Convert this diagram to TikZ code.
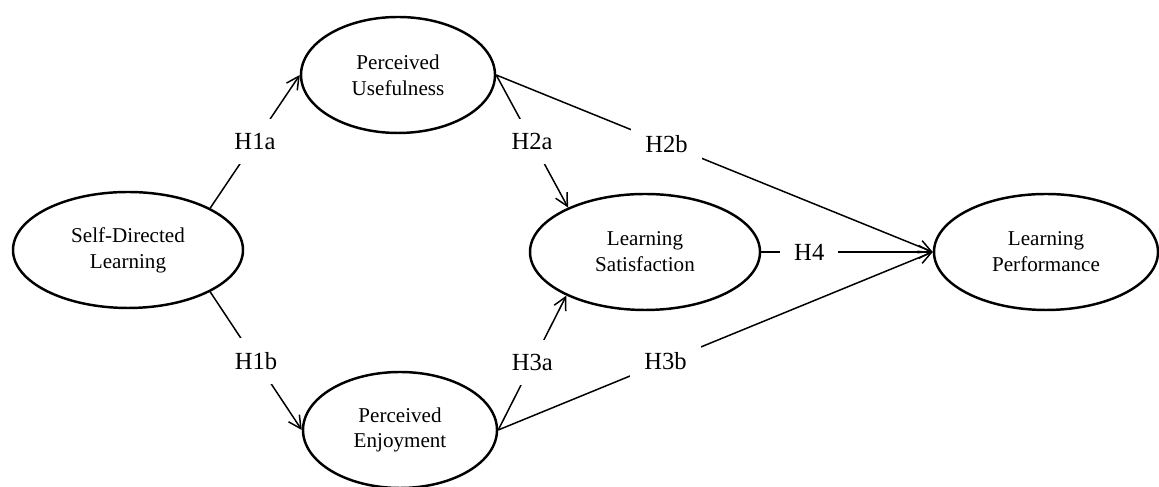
\documentclass[tikz,border=0pt]{standalone}
\usepackage{fontspec}
\setmainfont{Liberation Serif}
\usetikzlibrary{positioning, quotes, arrows.meta, shapes}

\begin{document}
\begin{tikzpicture}

\tikzset{
latent/.style = {ellipse, draw, line width = 1.4pt, inner sep = 0pt, minimum width = 4.6cm,
	minimum height = 2.32cm, align = center, font = \fontsize{12}{14.7}\selectfont},
regression/.style = {-{Straight Barb[length = 2.5mm, width = 2.6mm]}, line width = 0.85pt},
every edge quotes/.style = {fill = white, inner sep = 8pt, font = \fontsize{14}{16}\selectfont},
	}

\useasboundingbox (0, 0) rectangle (23.18, 9.74);

%% Latent variables
\node at (2.56, 4.74) [latent] (SDL) {Self-Directed\\Learning};
\node at (7.96, 8.24) [latent, minimum width = 3.88cm] (PU) {Perceived\\Usefulness};
\node at (8.00, 1.14) [latent, minimum width = 3.88cm] (PE) {Perceived\\Enjoyment};
\node at (12.90, 4.70) [latent] (LS) {Learning\\Satisfaction};
\node at (20.92, 4.70) [latent, minimum width = 4.48cm] (LP) {Learning\\Performance};

%% The hypotheses
\path [regression] (SDL.27) edge ["H1a"] (PU.west);
\path [regression] (SDL.-27) edge ["H1b"] (PE.west);
\path [regression] (PU.east) edge ["H2a"] (LS.150);
\path [regression] (PE.east) edge ["H3a"] (LS.209);
\path [regression] (PU.east) edge ["H2b" pos = 0.39] (LP.west);
\path [regression] (PE.east) edge ["H3b" pos = 0.385] (LP.west);
\path [regression] (LS.east) edge ["H4" pos = 0.28] (LP.west);

\end{tikzpicture}
\end{document}
